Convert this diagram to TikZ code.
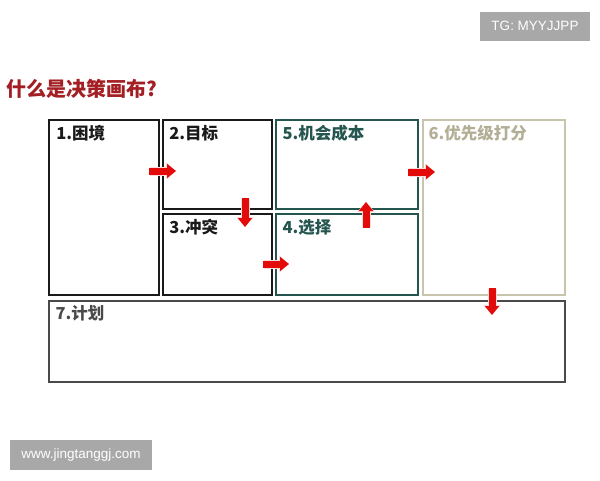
\documentclass[tikz,border=0pt]{standalone}
\usepackage{fontspec}
\setmainfont{Noto Sans CJK SC}
\newfontfamily\badgefont{Liberation Sans}
\usetikzlibrary{arrows.meta}

\definecolor{titlered}{HTML}{A31F24}
\definecolor{arrowred}{HTML}{E30A0A}
\definecolor{boxdark}{HTML}{1A1A1A}
\definecolor{boxteal}{HTML}{24554F}
\definecolor{boxbeige}{HTML}{C8C5AE}
\definecolor{textbeige}{HTML}{B3AF96}
\definecolor{boxgray}{HTML}{4A4A4A}
\definecolor{badgegray}{HTML}{A8A8A8}

\begin{document}
\begin{tikzpicture}[x=1pt,y=-1pt,
    box/.style={draw=boxdark, line width=1.6pt, inner sep=0pt},
    boxlabel/.style={anchor=north west, inner sep=0pt, text=boxdark,
        font=\bfseries\fontsize{16.5}{18}\selectfont},
    redarrow/.style={draw=arrowred, line width=7pt,
        -{Triangle[width=14pt,length=9pt]}},
    halo/.style={draw=arrowred!15, line width=9pt, shorten <=1pt,
        -{Triangle[width=17pt,length=10pt]}},
    badge/.style={fill=badgegray, text=white, inner sep=0pt,
        font=\badgefont\fontsize{13.5}{15}\selectfont}]
    \useasboundingbox (0,0) rectangle (600,480);

    % corner badges and title
    \node[badge, minimum width=110, minimum height=29] (tg) at (535,26) {TG: MYYJJPP};
    \node[badge, minimum width=142, minimum height=30] (site) at (81,455) {www.jingtanggj.com};
    \node[anchor=west, inner sep=0pt, text=titlered,
        font=\bfseries\fontsize{20}{22}\selectfont] (title) at (6,89) {什么是决策画布?};

    % the seven boxes of the canvas
    \begin{scope}
        \node[box, minimum width=110, minimum height=175] (dilemma) at (104,207.5) {};
        \node[box, minimum width=109, minimum height=89] (goal) at (217.5,164.5) {};
        \node[box, minimum width=109, minimum height=81] (conflict) at (217.5,254.5) {};
        \node[box, draw=boxteal, line width=1.4pt, minimum width=142, minimum height=89] (cost) at (347,164.5) {};
        \node[box, draw=boxteal, line width=1.4pt, minimum width=142, minimum height=81] (choice) at (347,254.5) {};
        \node[box, draw=boxbeige, line width=1.2pt, minimum width=142, minimum height=175] (score) at (494,207.5) {};
        \node[box, draw=boxgray, line width=1.4pt, minimum width=516, minimum height=81] (plan) at (307,341.5) {};
    \end{scope}

    \begin{scope}
        \node[boxlabel] (l1) at ([shift={(8,6)}]dilemma.north west) {1.困境};
        \node[boxlabel] (l2) at ([shift={(7,6)}]goal.north west) {2.目标};
        \node[boxlabel] (l3) at ([shift={(7,6)}]conflict.north west) {3.冲突};
        \node[boxlabel, text=boxteal] (l5) at ([shift={(7,6)}]cost.north west) {5.机会成本};
        \node[boxlabel, text=boxteal] (l4) at ([shift={(7,6)}]choice.north west) {4.选择};
        \node[boxlabel, text=textbeige] (l6) at ([shift={(6,6)}]score.north west) {6.优先级打分};
        \node[boxlabel, text=boxgray] (l7) at ([shift={(7,5)}]plan.north west) {7.计划};
    \end{scope}

    % red block arrows
    \coordinate (a12s) at (149,171);  \coordinate (a12e) at (176,171);
    \coordinate (a23s) at (245,198);  \coordinate (a23e) at (245,227);
    \coordinate (a34s) at (263,264);  \coordinate (a34e) at (289,264);
    \coordinate (a45s) at (366,228);  \coordinate (a45e) at (366,202);
    \coordinate (a56s) at (408,172);  \coordinate (a56e) at (435,172);
    \coordinate (a67s) at (492,288);  \coordinate (a67e) at (492,315);

    \begin{scope}
    \path [halo] (a12s) -- (a12e);
    \path [halo] (a23s) -- (a23e);
    \path [halo] (a34s) -- (a34e);
    \path [halo] (a45s) -- (a45e);
    \path [halo] (a56s) -- (a56e);
    \path [halo] (a67s) -- (a67e);
    \path [redarrow] (a12s) -- (a12e);
    \path [redarrow] (a23s) -- (a23e);
    \path [redarrow] (a34s) -- (a34e);
    \path [redarrow] (a45s) -- (a45e);
    \path [redarrow] (a56s) -- (a56e);
    \path [redarrow] (a67s) -- (a67e);
    \end{scope}

\end{tikzpicture}
\end{document}
